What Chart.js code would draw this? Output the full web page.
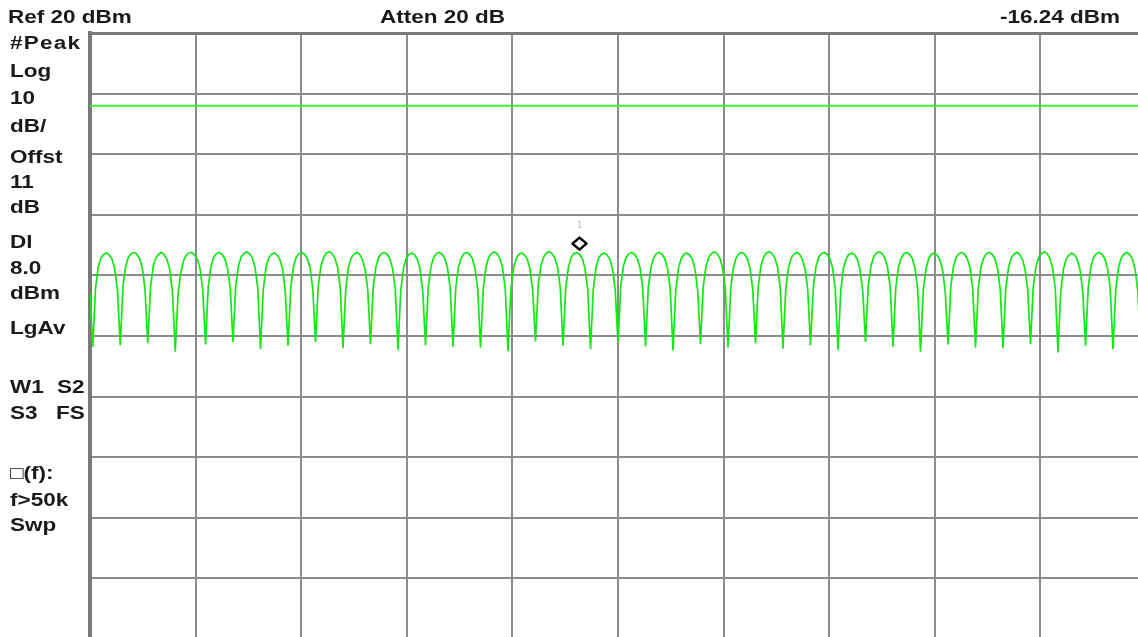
<!DOCTYPE html>
<html lang="en">
<head>
  <meta charset="UTF-8">
  <title>Spectrum Trace</title>
  <script src="https://cdn.jsdelivr.net/npm/chart.js"></script>
  <style>
    html, body { margin: 0; padding: 0; overflow: hidden; background: #fff; }
    #wrap { position: absolute; left: 0; top: 0; width: 1150px; height: 645px; }
    .lbl {
      position: absolute; font-family: "Liberation Sans", Arial, sans-serif;
      font-weight: bold; font-size: 18px; color: #1a1a1a; white-space: pre;
      transform-origin: 0 50%; transform: translateY(-50%) scaleX(1.25); line-height: 1;
    }
  </style>
  <script>
    // sweep levels in dBm, one per trace point
    const traceLevels = [
      -22.8,
      -31.8, -22.2, -18.6, -17.1, -16.5, -16.3, -16.6, -17.3, -18.9, -22.6,
      -31.5, -21.8, -18.4, -17.0, -16.4, -16.2, -16.5, -17.2, -18.7, -22.3,
      -31.2, -22.0, -18.5, -17.1, -16.5, -16.2, -16.6, -17.4, -19.0, -22.8,
      -32.6, -23.2, -19.6, -17.6, -16.7, -16.3, -16.2, -16.6, -17.3, -18.8, -22.4,
      -31.4, -21.9, -18.5, -17.0, -16.4, -16.2, -16.5, -17.2, -18.8, -22.2,
      -31.0, -21.7, -18.4, -16.9, -16.4, -16.1, -16.4, -17.1, -18.6, -22.1,
      -32.2, -22.4, -18.7, -17.1, -16.5, -16.3, -16.6, -17.3, -18.9, -22.5,
      -31.6, -22.0, -18.5, -17.0, -16.4, -16.2, -16.5, -17.2, -18.7, -22.2,
      -31.0, -21.8, -18.4, -17.0, -16.3, -16.1, -16.4, -17.1, -18.6, -22.0,
      -32.0, -22.3, -18.6, -17.1, -16.5, -16.2, -16.5, -17.3, -18.9, -22.4,
      -31.3, -21.9, -18.5, -17.0, -16.4, -16.2, -16.5, -17.2, -18.8, -22.2,
      -32.3, -22.5, -18.8, -17.2, -16.5, -16.3, -16.6, -17.3, -18.9, -22.6,
      -31.5, -22.0, -18.5, -17.0, -16.4, -16.2, -16.5, -17.2, -18.7, -22.2,
      -31.8, -22.1, -18.6, -17.1, -16.4, -16.2, -16.5, -17.2, -18.8, -22.3,
      -31.9, -22.2, -18.6, -17.0, -16.4, -16.1, -16.4, -17.1, -18.7, -22.2,
      -32.5, -22.6, -18.8, -17.2, -16.5, -16.3, -16.6, -17.3, -19.0, -22.6,
      -30.9, -21.6, -18.3, -16.9, -16.3, -16.1, -16.4, -17.1, -18.6, -22.0,
      -31.6, -22.0, -18.5, -17.0, -16.4, -16.24, -16.5, -17.2, -18.8, -22.3,
      -32.2, -22.4, -18.7, -17.1, -16.5, -16.3, -16.6, -17.3, -18.9, -22.5,
      -31.1, -21.8, -18.4, -17.0, -16.4, -16.2, -16.5, -17.2, -18.7, -22.1,
      -31.7, -22.1, -18.6, -17.1, -16.4, -16.2, -16.5, -17.2, -18.8, -22.3,
      -32.4, -22.5, -18.8, -17.2, -16.5, -16.3, -16.6, -17.3, -19.0, -22.6,
      -31.3, -21.9, -18.5, -17.0, -16.4, -16.1, -16.4, -17.1, -18.7, -22.1,
      -31.9, -22.2, -18.6, -17.1, -16.4, -16.2, -16.5, -17.2, -18.8, -22.3,
      -31.2, -21.8, -18.4, -16.9, -16.3, -16.1, -16.4, -17.1, -18.6, -22.0,
      -32.1, -22.3, -18.7, -17.1, -16.5, -16.2, -16.5, -17.3, -18.9, -22.4,
      -31.5, -22.0, -18.5, -17.0, -16.4, -16.2, -16.5, -17.2, -18.7, -22.2,
      -32.3, -22.5, -18.8, -17.2, -16.5, -16.3, -16.6, -17.3, -19.0, -22.6,
      -31.0, -21.7, -18.4, -16.9, -16.3, -16.1, -16.4, -17.1, -18.6, -22.0,
      -31.8, -22.1, -18.6, -17.1, -16.4, -16.2, -16.5, -17.2, -18.8, -22.3,
      -32.6, -22.6, -18.9, -17.2, -16.5, -16.3, -16.6, -17.4, -19.0, -22.7,
      -31.4, -21.9, -18.5, -17.0, -16.4, -16.2, -16.5, -17.2, -18.7, -22.2,
      -31.9, -22.2, -18.6, -17.1, -16.4, -16.2, -16.5, -17.2, -18.8, -22.3,
      -32.0, -22.3, -18.7, -17.1, -16.5, -16.2, -16.5, -17.3, -18.9, -22.4,
      -31.3, -21.9, -18.5, -17.0, -16.4, -16.1, -16.4, -17.1, -18.7, -22.1,
      -32.7, -22.7, -18.9, -17.3, -16.6, -16.3, -16.6, -17.4, -19.0, -22.7,
      -31.6, -22.0, -18.5, -17.0, -16.4, -16.2, -16.5, -17.2, -18.8, -22.2,
      -32.2, -22.4, -18.7, -17.1, -16.5, -16.2, -16.5, -17.3, -18.9, -22.5,
      -31.5, -22.0, -18.6
    ];

    const refLevel = 20;        // dBm, top of screen
    const dbPerDiv = 10;
    const yDivisions = 10;
    const xDivisions = 10;
    const sweepSpan = 384;      // trace points across the screen
    const displayLine = 8.0;    // dBm
    const markerPoint = 178;    // trace position of marker 1
    const markerLevel = -16.24; // dBm

    const markerPlugin = {
      id: "marker",
      afterDatasetsDraw(chart) {
        const { ctx, scales } = chart;
        const px = scales.x.getPixelForValue(markerPoint);
        const py = scales.y.getPixelForValue(markerLevel) - 9;
        ctx.save();
        ctx.strokeStyle = "#000";
        ctx.lineWidth = 2.5;
        ctx.lineJoin = "round";
        ctx.beginPath();
        ctx.moveTo(px - 7, py);
        ctx.lineTo(px, py - 6);
        ctx.lineTo(px + 7, py);
        ctx.lineTo(px, py + 6);
        ctx.closePath();
        ctx.stroke();
        ctx.fillStyle = "#b8b8b8";
        ctx.font = "9px 'DejaVu Sans'";
        ctx.textAlign = "center";
        ctx.textBaseline = "middle";
        ctx.fillText("1", px, py - 18);
        ctx.restore();
      }
    };

    document.addEventListener("DOMContentLoaded", () => {
      const yMin = refLevel - dbPerDiv * yDivisions;
      new Chart(document.getElementById("sa"), {
        type: "line",
        data: {
          datasets: [
            {
              label: "Display line",
              data: [{ x: 0, y: displayLine }, { x: sweepSpan, y: displayLine }],
              borderColor: "#3cf03c",
              borderWidth: 2,
              pointRadius: 0
            },
            {
              label: "Trace 1",
              data: traceLevels.map((v, i) => ({ x: i, y: v })),
              borderColor: "#12e812",
              borderWidth: 1.7,
              pointRadius: 0,
              tension: 0
            }
          ]
        },
        options: {
          responsive: false,
          animation: false,
          devicePixelRatio: 1,
          layout: { padding: { left: 90, top: 33, right: 4, bottom: 6 } },
          plugins: { legend: { display: false }, tooltip: { enabled: false } },
          scales: {
            x: {
              type: "linear",
              position: "top",
              min: 0,
              max: sweepSpan,
              afterBuildTicks: (s) => {
                const t = [];
                for (let i = 0; i <= xDivisions; i++) t.push({ value: s.min + (s.max - s.min) * i / xDivisions });
                s.ticks = t;
              },
              ticks: { display: false },
              grid: { color: "#8c8c8c", lineWidth: 2, drawTicks: false },
              border: { display: true, color: "#7a7a7a", width: 3 }
            },
            y: {
              min: yMin,
              max: refLevel,
              ticks: { display: false, stepSize: dbPerDiv },
              grid: { color: "#8c8c8c", lineWidth: 2, drawTicks: false },
              border: { display: true, color: "#7a7a7a", width: 4 }
            }
          }
        },
        plugins: [markerPlugin]
      });
    });
  </script>
</head>
<body>
  <div id="wrap"><canvas id="sa" width="1150" height="645"></canvas></div>

  <div class="lbl" style="left:8px; top:17px;">Ref 20 dBm</div>
  <div class="lbl" style="left:380px; top:17px;">Atten 20 dB</div>
  <div class="lbl" style="left:1000px; top:17px;">-16.24 dBm</div>

  <div class="lbl" style="left:10px; top:43px; letter-spacing:1px;">#Peak</div>
  <div class="lbl" style="left:10px; top:71px;">Log</div>
  <div class="lbl" style="left:10px; top:98px;">10</div>
  <div class="lbl" style="left:10px; top:126px;">dB/</div>
  <div class="lbl" style="left:10px; top:157px;">Offst</div>
  <div class="lbl" style="left:10px; top:182px;">11</div>
  <div class="lbl" style="left:10px; top:207px;">dB</div>
  <div class="lbl" style="left:10px; top:242px;">Dl</div>
  <div class="lbl" style="left:10px; top:268px;">8.0</div>
  <div class="lbl" style="left:10px; top:293px;">dBm</div>
  <div class="lbl" style="left:10px; top:328px;">LgAv</div>
  <div class="lbl" style="left:10px; top:387px;">W1</div>
  <div class="lbl" style="left:57px; top:387px;">S2</div>
  <div class="lbl" style="left:10px; top:413px;">S3</div>
  <div class="lbl" style="left:56px; top:413px;">FS</div>
  <div class="lbl" style="left:10px; top:473px;">□(f):</div>
  <div class="lbl" style="left:10px; top:500px;">f&gt;50k</div>
  <div class="lbl" style="left:10px; top:525px;">Swp</div>
</body>
</html>
